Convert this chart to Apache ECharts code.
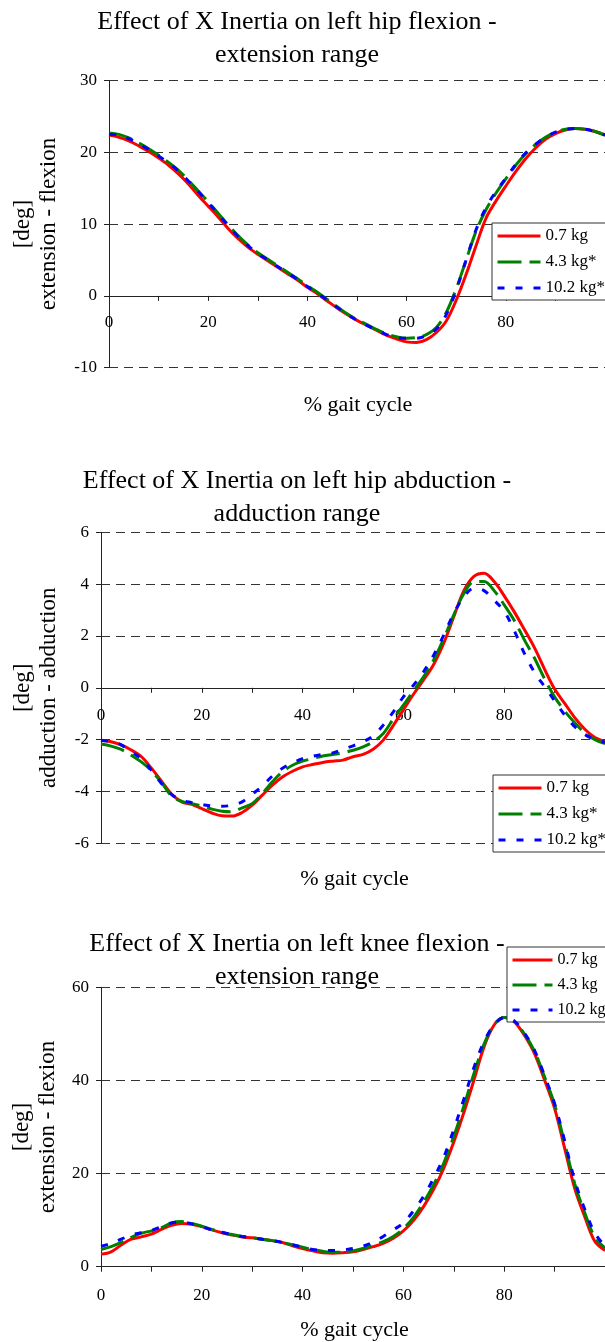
<!DOCTYPE html>
<html>
<head>
<meta charset="utf-8">
<script src="https://cdn.jsdelivr.net/npm/echarts@6/dist/echarts.min.js"></script>
<style>html,body{margin:0;padding:0;background:#fff;}#c{width:605px;height:1342px;}</style>
</head>
<body>
<div id="c"></div>
<script>
// ---- data ----
const gaitPct = [0,2,4,6,8,10,12,14,16,18,20,22,24,26,28,30,32,34,36,38,40,42,44,46,48,50,52,54,56,58,60,62,64,66,68,70,72,74,76,78,80,82,84,86,88,90,92,94,96,98,100];

const chartTitles = [
  'Effect of X Inertia on left hip flexion -\nextension range',
  'Effect of X Inertia on left hip abduction -\nadduction range',
  'Effect of X Inertia on left knee flexion -\nextension range'
];
const yNames = ['[deg]\nextension - flexion', '[deg]\nadduction - abduction', '[deg]\nextension - flexion'];
const xName = '% gait cycle';
const legendNames = [
  ['0.7 kg', '4.3 kg*', '10.2 kg*'],
  ['0.7 kg', '4.3 kg*', '10.2 kg*'],
  ['0.7 kg', '4.3 kg', '10.2 kg']
];

// hip flexion - extension
const hipFlex07 = [22.4,22.1,21.6,20.9,20.1,19.2,18.2,17.0,15.6,14.0,12.5,11.0,9.4,8.0,6.8,5.8,4.9,4.0,3.1,2.2,1.2,0.3,-0.7,-1.7,-2.6,-3.4,-4.1,-4.8,-5.5,-6.0,-6.4,-6.5,-6.1,-5.1,-3.5,-0.6,3.0,7.0,10.8,13.2,15.3,17.3,19.1,20.6,21.8,22.6,23.1,23.3,23.2,22.9,22.4];
const hipFlex43 = [22.7,22.5,22.0,21.3,20.5,19.6,18.6,17.5,16.1,14.6,13.1,11.5,9.9,8.4,7.1,6.0,5.1,4.2,3.3,2.4,1.4,0.5,-0.5,-1.5,-2.5,-3.3,-4.0,-4.7,-5.3,-5.7,-5.9,-5.8,-5.4,-4.4,-2.3,1.0,5.0,9.0,12.0,14.3,16.3,18.2,19.8,21.1,22.1,22.8,23.2,23.3,23.2,22.9,22.4];
const hipFlex102 = [22.5,22.4,21.9,21.2,20.4,19.5,18.5,17.4,16.0,14.5,13.0,11.4,9.8,8.3,7.0,5.9,5.0,4.1,3.2,2.3,1.3,0.4,-0.6,-1.6,-2.6,-3.4,-4.1,-4.8,-5.4,-5.8,-5.9,-5.9,-5.5,-4.6,-2.6,0.8,5.0,9.2,12.3,14.5,16.4,18.3,19.9,21.1,22.1,22.8,23.2,23.3,23.2,22.9,22.4];

// hip abduction - adduction
const hipAbd07 = [-2.02,-2.08,-2.2,-2.4,-2.66,-3.1,-3.6,-4.1,-4.4,-4.5,-4.66,-4.83,-4.94,-4.95,-4.81,-4.53,-4.14,-3.76,-3.44,-3.22,-3.05,-2.96,-2.88,-2.83,-2.79,-2.66,-2.57,-2.37,-2.02,-1.45,-0.85,-0.25,0.3,0.9,1.72,2.74,3.75,4.3,4.42,4.1,3.55,2.93,2.25,1.55,0.72,-0.05,-0.6,-1.15,-1.6,-1.92,-2.08];
const hipAbd43 = [-2.17,-2.25,-2.38,-2.6,-2.86,-3.2,-3.65,-4.17,-4.38,-4.47,-4.56,-4.68,-4.76,-4.78,-4.63,-4.47,-4.08,-3.63,-3.24,-2.99,-2.83,-2.73,-2.63,-2.57,-2.51,-2.41,-2.28,-2.08,-1.76,-1.2,-0.67,-0.12,0.42,1.07,1.9,2.81,3.64,4.09,4.1,3.75,3.2,2.6,1.85,1.15,0.35,-0.35,-0.9,-1.35,-1.75,-2.0,-2.15];
const hipAbd102 = [-2.02,-2.08,-2.2,-2.47,-2.73,-3.18,-3.69,-4.12,-4.34,-4.43,-4.5,-4.56,-4.57,-4.53,-4.4,-4.1,-3.8,-3.4,-3.1,-2.9,-2.73,-2.64,-2.57,-2.51,-2.37,-2.24,-2.08,-1.85,-1.44,-0.93,-0.35,0.1,0.62,1.26,2.03,2.87,3.51,3.84,3.75,3.38,2.95,2.2,1.33,0.6,0.05,-0.5,-1.05,-1.5,-1.8,-2.0,-2.1];

// knee flexion - extension
const knee07 = [2.7,3.2,4.65,5.9,6.4,7.0,8.0,8.9,9.3,9.1,8.6,7.9,7.3,6.8,6.4,6.2,5.9,5.6,5.2,4.5,3.9,3.4,3.0,2.9,3.0,3.2,3.7,4.3,5.0,6.1,7.7,9.9,12.9,16.6,21.1,26.8,33.1,40.1,47.2,51.9,53.5,52.6,49.7,45.8,40.1,34.0,25.4,16.8,10.7,5.4,3.5];
const knee43 = [3.7,4.3,5.2,6.3,7.2,7.7,8.4,9.4,9.7,9.3,8.7,8.0,7.4,6.9,6.5,6.2,5.9,5.6,5.2,4.7,4.2,3.7,3.3,3.1,3.1,3.4,3.9,4.6,5.4,6.5,8.2,10.6,13.8,17.6,22.2,28.0,34.5,41.5,47.8,52.0,53.5,52.7,50.0,46.3,40.8,34.8,26.5,17.8,11.5,6.3,4.0];
const knee102 = [4.4,5.0,5.9,6.8,7.3,7.8,8.6,9.4,9.6,9.2,8.6,7.9,7.4,6.9,6.5,6.2,5.9,5.6,5.2,4.7,4.2,3.7,3.5,3.5,3.6,3.9,4.4,5.3,6.5,7.9,9.4,12.0,15.1,19.0,23.5,29.5,36.0,42.8,48.3,51.9,53.5,52.8,50.2,46.5,41.0,35.0,27.0,18.5,12.3,7.2,4.4];

const yRanges = [[-10, 30, 10], [-6, 6, 2], [0, 60, 20]];
const xTickLabels = [0, 20, 40, 60, 80];
const seriesData = [[hipFlex07, hipFlex43, hipFlex102], [hipAbd07, hipAbd43, hipAbd102], [knee07, knee43, knee102]];

// ---- styles / layout ----
const FONT = '"Liberation Serif", "Times New Roman", serif';
const colors = ['#ff0000', '#008000', '#0000ff'];
const dashes = ['solid', [24, 8], [7, 11]];

const grids = [
  {left: 109, top: 80.5, height: 287.2, right: -2},
  {left: 101, top: 532.3, height: 311, right: -3},
  {left: 101, top: 987.3, height: 279.4, right: -3}
];
const titleTop = [6, 465, 928];
const xNameCenter = [{x: 358, y: 405}, {x: 354.5, y: 879}, {x: 354.5, y: 1330}];
const yNameGap = [47, 39, 39];
const xLabelMargin = [18, 19.5, 20];
const legendPos = [
  {left: 492, top: 223, padding: [3, 30, 2, 4], itemWidth: 43, itemGap: 6, fs: 17},
  {left: 493, top: 775, padding: [3, 30, 2, 4], itemWidth: 43, itemGap: 6, fs: 17},
  {left: 507, top: 947, padding: [3, 30, 2, 4], itemWidth: 40, itemGap: 5, fs: 16}
];

const chart = echarts.init(document.getElementById('c'), null, {renderer: 'canvas', width: 605, height: 1342});

const titles = chartTitles.map((t, i) => ({
  text: t, left: 297, top: titleTop[i], textAlign: 'center', padding: 0,
  textStyle: {fontFamily: FONT, fontSize: 26, fontWeight: 'normal', color: '#000', lineHeight: 33}
})).concat(xNameCenter.map(p => ({
  text: xName, left: p.x, top: p.y - 11, textAlign: 'center', padding: 0,
  textStyle: {fontFamily: FONT, fontSize: 22, fontWeight: 'normal', color: '#000', lineHeight: 22}
})));

const option = {
  animation: false,
  backgroundColor: '#fff',
  title: titles,
  grid: grids.map(g => Object.assign({containLabel: false}, g)),
  legend: legendPos.map((l, i) => ({
    data: legendNames[i], orient: 'vertical', left: l.left, top: l.top,
    padding: l.padding, itemWidth: l.itemWidth, itemHeight: 20, itemGap: l.itemGap,
    backgroundColor: '#fff', borderColor: '#333', borderWidth: 1, borderRadius: 0,
    selectedMode: false,
    textStyle: {fontFamily: FONT, fontSize: l.fs, color: '#000', lineHeight: 20},
    itemStyle: {color: 'rgba(0,0,0,0)', borderColor: 'rgba(0,0,0,0)', borderWidth: 0, opacity: 0},
    lineStyle: {width: 3}
  })),
  xAxis: grids.map((g, i) => ({
    type: 'value', gridIndex: i, min: 0, max: 100, interval: 10,
    position: 'bottom',
    offset: -g.height * (0 - yRanges[i][0]) / (yRanges[i][1] - yRanges[i][0]),
    axisLine: {onZero: false, lineStyle: {color: '#222', width: 1}},
    axisTick: {show: true, inside: false, length: 5, lineStyle: {color: '#222'}},
    axisLabel: {
      fontFamily: FONT, fontSize: 17, color: '#000', margin: xLabelMargin[i], showMaxLabel: false,
      formatter: v => (xTickLabels.indexOf(v) >= 0 ? String(v) : '')
    },
    splitLine: {show: false}
  })),
  yAxis: yRanges.map((r, i) => ({
    type: 'value', gridIndex: i, min: r[0], max: r[1], interval: r[2],
    name: yNames[i], nameLocation: 'middle', nameGap: yNameGap[i], nameRotate: 90,
    nameTextStyle: {fontFamily: FONT, fontSize: 23, color: '#000', lineHeight: 26},
    axisLine: {show: true, onZero: false, lineStyle: {color: '#222', width: 1}},
    axisTick: {show: true, inside: false, length: 5, lineStyle: {color: '#222'}},
    axisLabel: {fontFamily: FONT, fontSize: 17, color: '#000', margin: 12},
    splitLine: {show: true, lineStyle: {color: '#333', width: 1, type: [9, 6]}}
  })),
  series: []
};

seriesData.forEach((group, i) => {
  group.forEach((vals, k) => {
    option.series.push({
      type: 'line', name: legendNames[i][k], xAxisIndex: i, yAxisIndex: i,
      data: gaitPct.map((x, j) => [x, vals[j]]),
      symbol: 'none', smooth: 0.35,
      lineStyle: {color: colors[k], width: 3, type: dashes[k]},
      itemStyle: {color: colors[k]},
      z: 2 + k
    });
  });
});

chart.setOption(option);
</script>
</body>
</html>
